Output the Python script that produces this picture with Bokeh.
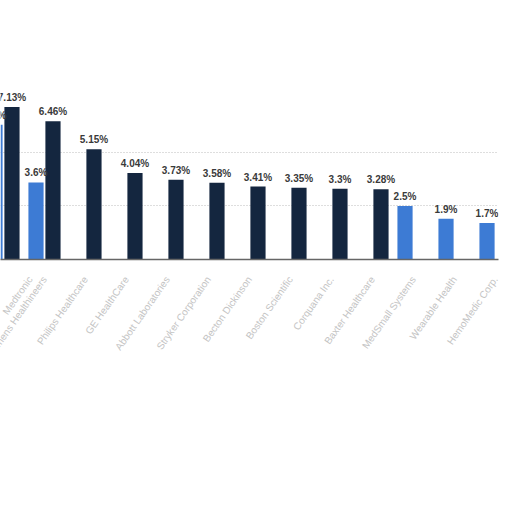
from bokeh.plotting import figure
from bokeh.models import ColumnDataSource, FactorRange, Range1d, LabelSet, FixedTicker
from bokeh.core.properties import value
from bokeh.transform import dodge
from bokeh.embed import file_html
from bokeh.resources import INLINE

companies = [
    "Medtronic", "Siemens Healthineers", "Philips Healthcare", "GE HealthCare",
    "Abbott Laboratories", "Stryker Corporation", "Becton Dickinson", "Boston Scientific",
    "Corquana Inc.", "Baxter Healthcare", "MedSmall Systems", "Wearable Health",
    "HemoMedic Corp.",
]
series_blue_values = [6.3, 3.6, None, None, None, None, None, None, None, None, 2.5, 1.9, 1.7]
series_dark_values = [7.13, 6.46, 5.15, 4.04, 3.73, 3.58, 3.41, 3.35, 3.3, 3.28, None, None, None]
grid_levels = [2.5, 5.0]

BLUE = "#3d7bd4"
DARK = "#14263f"


def make_source(values):
    cats = [c for c, v in zip(companies, values) if v is not None]
    vals = [v for v in values if v is not None]
    labels = [f"{v:g}%" for v in vals]
    return ColumnDataSource(dict(cat=cats, v=vals, label=labels))


src_blue = make_source(series_blue_values)
src_dark = make_source(series_dark_values)

x_range = FactorRange(factors=companies, range_padding=-0.427, range_padding_units="absolute")

p = figure(
    x_range=x_range,
    y_range=Range1d(0, 12.1),
    width=504,
    height=504,
    title=None,
    toolbar_location=None,
    output_backend="svg",
    min_border_left=0,
    min_border_right=6,
    min_border_top=0,
    min_border_bottom=245,
)
p.outline_line_color = None
p.background_fill_color = "white"
p.border_fill_color = "white"

off = 0.207
bw = 0.37
p.vbar(x=dodge("cat", -off, range=p.x_range), top="v", width=bw, source=src_blue,
       fill_color=BLUE, line_color=None)
p.vbar(x=dodge("cat", off, range=p.x_range), top="v", width=bw, source=src_dark,
       fill_color=DARK, line_color=None)

for src, o in ((src_blue, -off), (src_dark, off)):
    lab = LabelSet(x=dodge("cat", o, range=p.x_range), y="v", text="label", source=src,
                   y_offset=4, text_align="center", text_baseline="bottom",
                   text_font=value("Liberation Sans"), text_font_style="bold",
                   text_font_size="10px", text_color="#3a3a3a")
    p.add_layout(lab)

p.yaxis.visible = False
p.xgrid.grid_line_color = None
p.ygrid.ticker = FixedTicker(ticks=grid_levels)
p.ygrid.grid_line_color = "#bdbdbd"
p.ygrid.grid_line_dash = "1 2"

p.xaxis.axis_line_color = "#666666"
p.xaxis.axis_line_width = 1.5
p.xaxis.major_tick_line_color = None
p.xaxis.minor_tick_line_color = None
p.xaxis.major_label_orientation = 0.96
p.xaxis.major_label_standoff = 12
p.xaxis.major_label_text_font = "Liberation Sans"
p.xaxis.major_label_text_font_size = "10px"
p.xaxis.major_label_text_color = "#c4c4c4"

open("out.html", "w").write(file_html(p, INLINE))
